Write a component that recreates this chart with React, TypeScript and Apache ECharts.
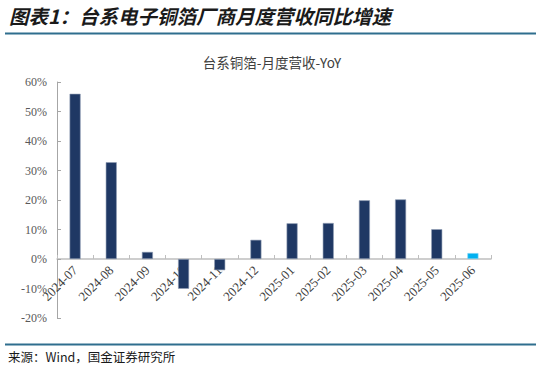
import React, { useEffect, useRef } from "react";
import * as echarts from "echarts";

const categories = [
  "2024-07", "2024-08", "2024-09", "2024-10", "2024-11", "2024-12",
  "2025-01", "2025-02", "2025-03", "2025-04", "2025-05", "2025-06",
];
const yoyValues = [56.0, 32.8, 2.4, -10.1, -3.8, 6.5, 12.1, 12.2, 19.9, 20.2, 10.1, 2.0];
const yTicks = { min: -20, max: 60, interval: 10 };
const titleText = "图表1：台系电子铜箔厂商月度营收同比增速";
const chartTitle = "台系铜箔-月度营收-YoY";
const sourceText = "来源：Wind，国金证券研究所";

const SERIF = "'Times New Roman', 'Liberation Serif', 'DejaVu Serif', serif";
const CJK = "'Noto Sans CJK SC', sans-serif";

const GRID_TOP = 82;
const GRID_BOTTOM_Y = 318;

export default function App() {
  const ref = useRef<HTMLDivElement>(null);
  useEffect(() => {
    if (!ref.current) return;
    const chart = echarts.init(ref.current, undefined, { renderer: "svg" });
    const last = yoyValues.length - 1;
    const plotH = GRID_BOTTOM_Y - GRID_TOP;
    const zeroOffset = (plotH * (0 - yTicks.min)) / (yTicks.max - yTicks.min);
    chart.setOption({
      animation: false,
      backgroundColor: "#ffffff",
      title: {
        text: chartTitle,
        left: 267,
        textAlign: "center",
        top: 50,
        textStyle: { fontSize: 13.5, fontWeight: "normal", color: "#404040", fontFamily: CJK },
      },
      grid: { left: 57, right: 50, top: GRID_TOP, bottom: 373 - GRID_BOTTOM_Y, containLabel: false },
      xAxis: {
        type: "category",
        data: categories,
        boundaryGap: true,
        position: "bottom",
        offset: -zeroOffset,
        axisLine: { onZero: false, lineStyle: { color: "#bfbfbf", width: 1.5 } },
        axisTick: { show: true, inside: true, length: 4, lineStyle: { color: "#bfbfbf" } },
        axisLabel: {
          rotate: 45,
          margin: 9,
          interval: 0,
          fontSize: 13,
          color: "#404040",
          fontFamily: SERIF,
        },
        splitLine: { show: false },
      },
      yAxis: {
        type: "value",
        min: yTicks.min,
        max: yTicks.max,
        interval: yTicks.interval,
        axisLine: { show: true, lineStyle: { color: "#a6a6a6" } },
        axisTick: { show: true, inside: true, length: 4, lineStyle: { color: "#a6a6a6" } },
        axisLabel: {
          formatter: "{value}%",
          margin: 10,
          fontSize: 12,
          color: "#595959",
          fontFamily: SERIF,
        },
        splitLine: { show: false },
      },
      series: [
        {
          type: "bar",
          barWidth: 11,
          z: 3,
          data: yoyValues.map((v, i) => ({
            value: v,
            itemStyle: {
              color: i === last ? "#00b0f0" : "#1f3864",
              borderColor: i === last ? "#7fd3f3" : "#8e9cb4",
              borderWidth: 0.6,
            },
          })),
        },
      ],
      graphic: [
        {
          type: "text",
          left: 9,
          top: 6,
          style: {
            text: titleText,
            fontSize: 19.5,
            fontWeight: "bold",
            fontStyle: "italic",
            fill: "#1a1a1a",
            fontFamily: CJK,
          },
        },
        {
          type: "line",
          shape: { x1: 5, y1: 33.5, x2: 536, y2: 33.5 },
          style: { stroke: "#2f6e8e", lineWidth: 2 },
        },
        {
          type: "line",
          shape: { x1: 5, y1: 344.5, x2: 536, y2: 344.5 },
          style: { stroke: "#2f6e8e", lineWidth: 2 },
        },
        {
          type: "text",
          left: 8,
          top: 350,
          style: {
            text: sourceText,
            fontSize: 12.5,
            fill: "#1a1a1a",
            fontFamily: CJK,
          },
        },
      ],
    });
    return () => chart.dispose();
  }, []);
  return (
    <div
      ref={ref}
      style={{ position: "fixed", left: 0, top: 0, width: 541, height: 373 }}
    />
  );
}
